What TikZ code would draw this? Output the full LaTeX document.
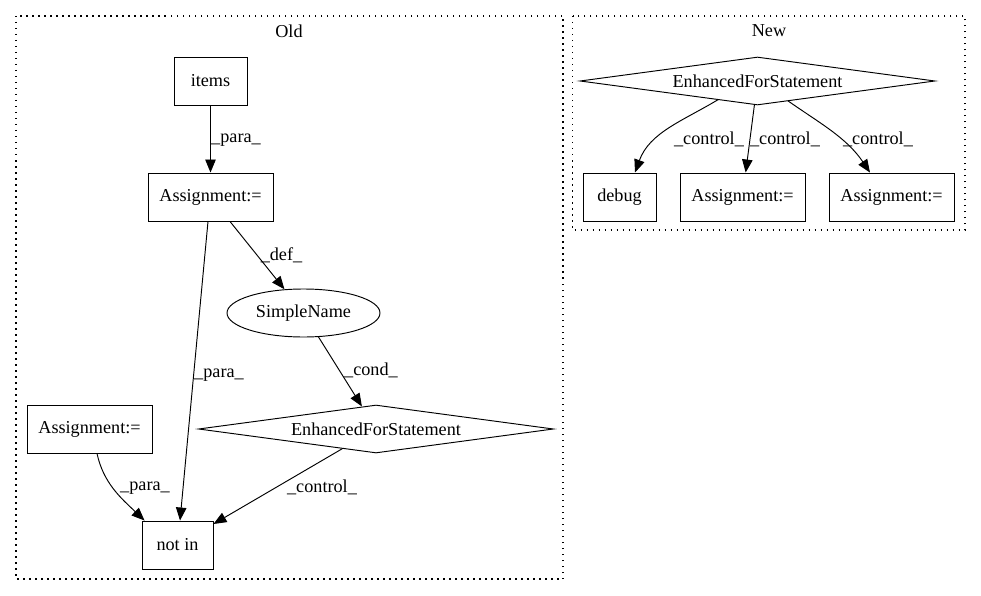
\documentclass[tikz,border=0pt]{standalone}
\usepackage{fontspec}
\setmainfont{Liberation Serif}
\usetikzlibrary{shapes.geometric,arrows.meta,calc}
\begin{document}
\begin{tikzpicture}[x=1pt,y=-1pt,
  font=\fontsize{18.2}{22}\selectfont,
  box/.style={draw, line width=0.95pt, rectangle, minimum height=48pt, inner sep=0pt},
  ell/.style={draw, line width=0.95pt, ellipse, minimum width=153pt, minimum height=48pt, inner sep=0pt},
  dia/.style={draw, line width=0.95pt, diamond, aspect=7.4, minimum width=355pt, minimum height=48pt, inner sep=0pt},
  edge/.style={draw, line width=0.95pt, -{Triangle[length=13pt,width=10.5pt]}},
  lbl/.style={inner sep=0pt},
  cluster/.style={draw, line width=1.2pt, dash pattern=on 1.5pt off 4.5pt}]
\useasboundingbox (0,0) rectangle (981,596);
% clusters
\draw[cluster] (16,16) rectangle (563,579);
\draw[cluster] (572.6,16) rectangle (965,230);
\node[lbl] (oldlbl) at (289,31) {Old};
\node[lbl] (newlbl) at (769,31) {New};
% Old nodes
\node[box, minimum width=73pt] (items) at (210.5,81) {items};
\node[box, minimum width=125pt] (a1) at (210.5,197) {Assignment:=};
\node[ell] (sn) at (303.5,313) {SimpleName};
\node[dia] (efs1) at (376,429) {EnhancedForStatement};
\node[box, minimum width=125pt] (a2) at (89.5,429) {Assignment:=};
\node[box, minimum width=71pt] (ni) at (177.5,545) {not in};
% New nodes
\node[dia] (efs2) at (757.5,81) {EnhancedForStatement};
\node[box, minimum width=73pt] (dbg) at (619.5,197) {debug};
\node[box, minimum width=125pt] (a3) at (742.5,197) {Assignment:=};
\node[box, minimum width=125pt] (a4) at (891.5,197) {Assignment:=};
% Old edges
\draw[edge] (items) -- (a1);
\draw[edge] ($(a1.south)+(-2.5,0)$) -- ($(ni.north)+(2.5,0)$);
\draw[edge] ($(a1.south)+(19.5,0)$) -- (sn);
\draw[edge] (sn) -- (efs1);
\draw[edge] (efs1) -- (ni);
\draw[edge] ($(a2.south)+(7.5,0)$) .. controls ($(a2.south)+(14,30)$) and ($(ni.north west)+(-20,-22)$) .. ($(ni.north west)+(3,0)$);
% New edges
\draw[edge] (efs2) -- (a3);
\draw[edge] ($(efs2.center)+(-39.5,18.7)$) .. controls ($(efs2.center)+(-75,40)$) and ($(dbg.north)+(30,-40)$) .. ($(dbg.north)+(15.5,0)$);
\draw[edge] ($(efs2.center)+(30.5,19.9)$) .. controls ($(efs2.center)+(62,42)$) and ($(a4.north)+(-45,-35)$) .. ($(a4.north)+(-21.5,0)$);
% labels
\node[lbl] (l1) at (236,140) {\_para\_};
\node[lbl] (l2) at (281.5,255) {\_def\_};
\node[lbl] (l3) at (219,375) {\_para\_};
\node[lbl] (l4) at (371,370) {\_cond\_};
\node[lbl] (l5) at (145,488) {\_para\_};
\node[lbl] (l6) at (322,487) {\_control\_};
\node[lbl] (l7) at (709,139) {\_control\_};
\node[lbl] (l8) at (785,139) {\_control\_};
\node[lbl] (l9) at (878,139) {\_control\_};
\end{tikzpicture}
\end{document}
